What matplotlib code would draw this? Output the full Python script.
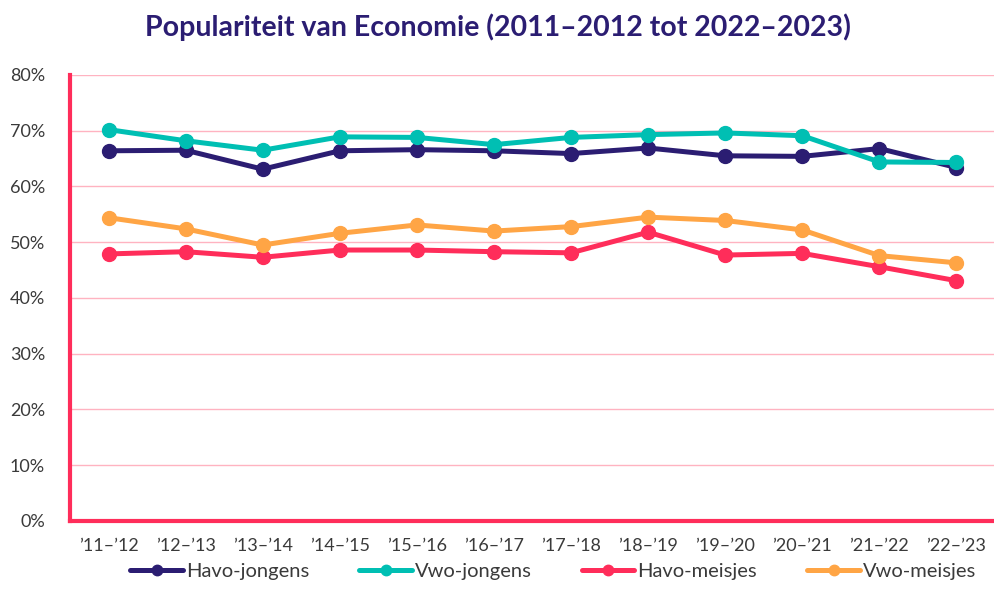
import matplotlib
matplotlib.use("Agg")
from matplotlib import pyplot as plt
from matplotlib.ticker import PercentFormatter

seasons = ["’11–’12", "’12–’13", "’13–’14", "’14–’15", "’15–’16", "’16–’17",
           "’17–’18", "’18–’19", "’19–’20", "’20–’21", "’21–’22", "’22–’23"]

havo_jongens = [66.4, 66.5, 63.1, 66.4, 66.6, 66.4, 65.9, 66.9, 65.5, 65.4, 66.8, 63.4]
vwo_jongens = [70.2, 68.2, 66.5, 68.9, 68.8, 67.5, 68.8, 69.3, 69.6, 69.1, 64.4, 64.3]
havo_meisjes = [47.9, 48.3, 47.3, 48.6, 48.6, 48.3, 48.1, 51.8, 47.7, 48.0, 45.6, 43.1]
vwo_meisjes = [54.4, 52.4, 49.5, 51.6, 53.1, 52.0, 52.8, 54.5, 53.9, 52.2, 47.6, 46.3]

series = [
    ("Havo-jongens", havo_jongens, "#2b1d72"),
    ("Vwo-jongens", vwo_jongens, "#00bfb3"),
    ("Havo-meisjes", havo_meisjes, "#ff2d5a"),
    ("Vwo-meisjes", vwo_meisjes, "#ffa545"),
]

plt.rcParams["font.family"] = ["Lato", "DejaVu Sans"]

fig = plt.figure(figsize=(9.95, 6.07), dpi=100)
ax = fig.add_axes([0.0704, 0.1417, 0.9296, 0.7348])

x = list(range(len(seasons)))
for name, vals, col in series:
    ax.plot(x, vals, color=col, lw=3.6, marker="o", markersize=10,
            label=name, solid_capstyle="round", zorder=3)

ax.set_xlim(-0.5, len(seasons) - 0.5)
ax.set_ylim(0, 80)
ax.set_yticks(range(0, 81, 10))
ax.yaxis.set_major_formatter(PercentFormatter(decimals=0))
ax.set_xticks(x)
ax.set_xticklabels(seasons)

ax.grid(axis="y", color="#ffb3c1", lw=1, zorder=0)
ax.set_axisbelow(True)
for s in ["top", "right"]:
    ax.spines[s].set_visible(False)
for s in ["left", "bottom"]:
    ax.spines[s].set_color("#ff2d5a")
    ax.spines[s].set_linewidth(3)
ax.tick_params(length=0, labelsize=13, colors="#3a3a3a")
ax.tick_params(axis="y", pad=18)
ax.tick_params(axis="x", pad=12)

fig.suptitle("Populariteit van Economie (2011–2012 tot 2022–2023)",
             x=0.5, y=0.978, fontsize=20.5, fontweight="bold", color="#2b1d72")

fig.legend(loc="center", bbox_to_anchor=(0.556, 0.059), ncol=4, frameon=False,
           fontsize=14.5, handlelength=2.6, handletextpad=0.15, columnspacing=2.5,
           markerscale=0.75, labelcolor="#3a3a3a")

fig.savefig("out.png", dpi=100)
